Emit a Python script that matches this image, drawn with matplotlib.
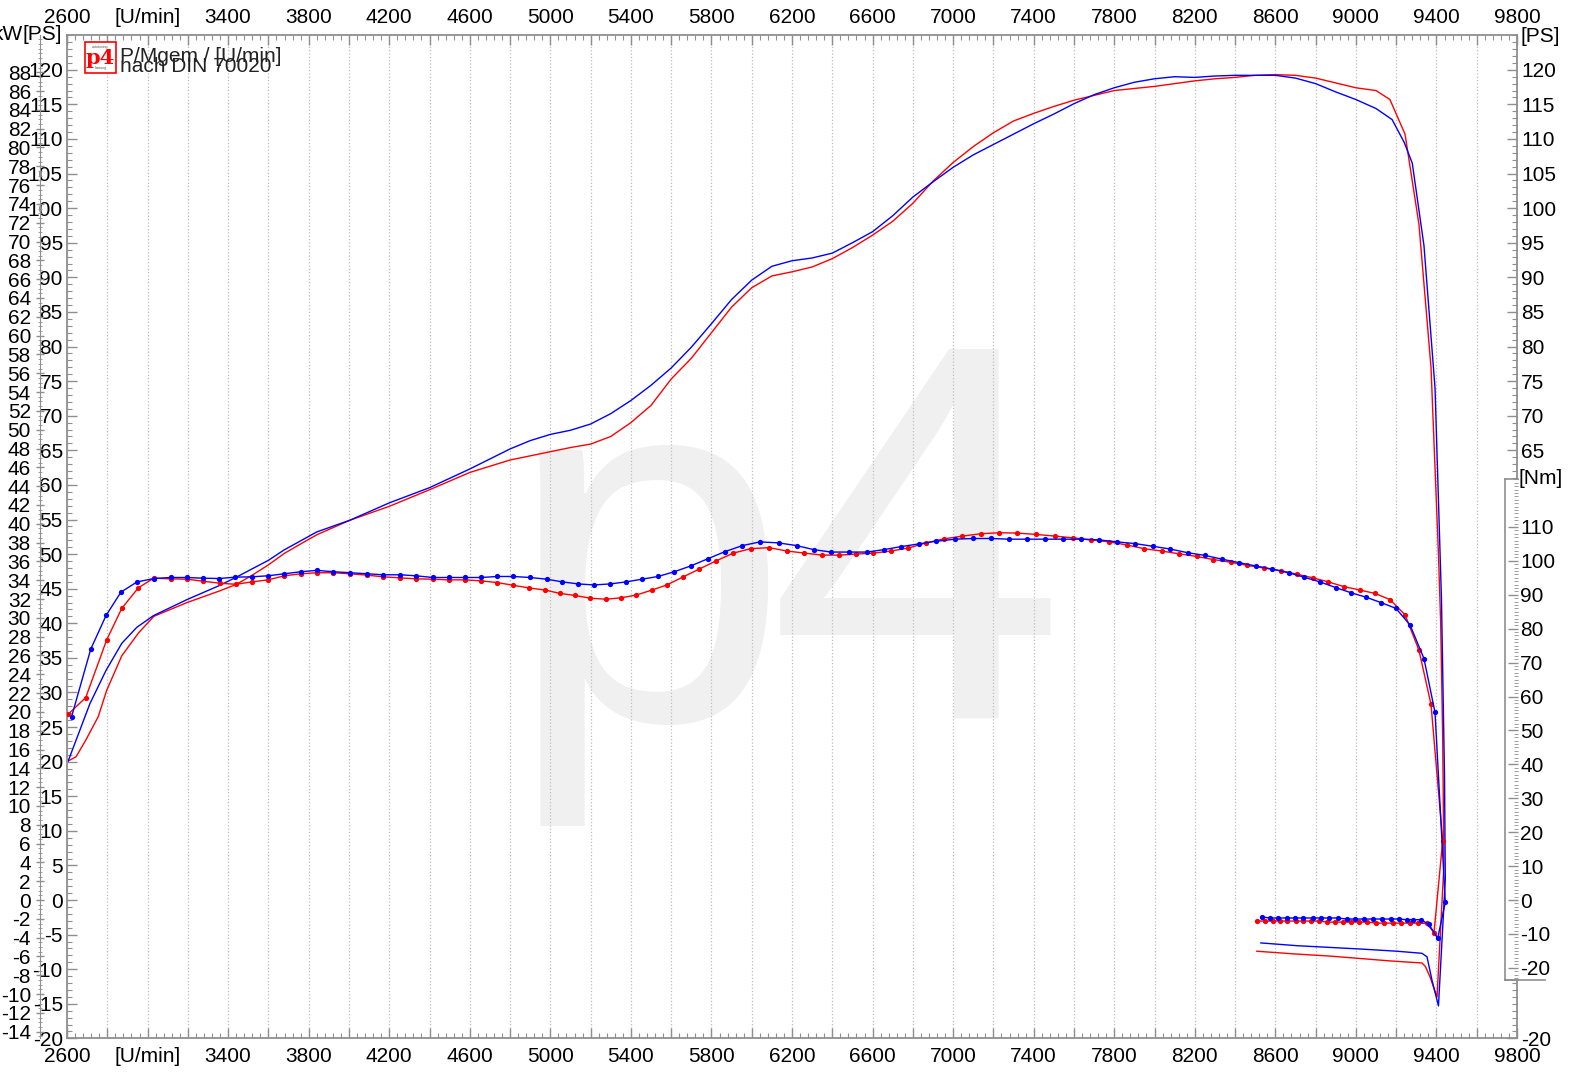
import matplotlib
matplotlib.use("Agg")
import matplotlib.pyplot as plt
from matplotlib.ticker import FixedLocator, MultipleLocator, FuncFormatter
from matplotlib.patches import Rectangle
from matplotlib.lines import Line2D

plt.rcParams['font.family'] = ['Liberation Sans', 'DejaVu Sans']
plt.rcParams['axes.unicode_minus'] = False

# ---- Daten ----
# Leistung [PS], Lauf blau
blue_p_rpm = [2606, 2714, 2794, 2872, 2946, 3029, 3194, 3360, 3443, 3600, 3678, 3840,
              4005, 4200, 4400, 4600, 4800, 4900, 5000, 5100, 5200, 5300, 5400, 5500,
              5600, 5700, 5800, 5900, 6000, 6100, 6200, 6300, 6400, 6500, 6600, 6700,
              6800, 6900, 7000, 7100, 7200, 7300, 7400, 7500, 7600, 7700, 7800, 7900,
              8000, 8100, 8200, 8300, 8400, 8500, 8600, 8700, 8800, 8900, 9000, 9100,
              9180, 9240, 9280, 9338, 9393, 9425, 9440, 9444, 9410, 9378, 9353, 9328,
              9204, 9035, 8707, 8528]
blue_p_ps = [20.1, 28.4, 33.2, 37.1, 39.4, 41.1, 43.4, 45.5, 46.7, 49.1, 50.6, 53.2,
             54.9, 57.4, 59.6, 62.3, 65.2, 66.4, 67.3, 67.9, 68.8, 70.3, 72.2, 74.4,
             76.9, 79.9, 83.3, 86.8, 89.6, 91.6, 92.4, 92.8, 93.5, 95.0, 96.6, 98.9,
             101.6, 103.8, 105.9, 107.7, 109.2, 110.7, 112.2, 113.6, 115.1, 116.4, 117.4, 118.2,
             118.7, 119.0, 118.9, 119.1, 119.2, 119.2, 119.2, 118.8, 118.0, 116.8, 115.7, 114.4,
             112.8, 109.5, 106.5, 94.6, 74.0, 43.4, 18.0, 3.0, -15.3, -11.6, -8.2, -7.7,
             -7.4, -7.1, -6.6, -6.2]

# Leistung [PS], Lauf rot
red_p_rpm = [2606, 2645, 2693, 2755, 2797, 2872, 2955, 3031, 3196, 3360, 3439, 3517,
             3598, 3679, 3762, 3841, 4005, 4200, 4400, 4600, 4800, 4900, 5000, 5100,
             5200, 5300, 5400, 5500, 5600, 5700, 5800, 5900, 6000, 6100, 6200, 6300,
             6400, 6500, 6600, 6700, 6800, 6900, 7000, 7100, 7200, 7300, 7400, 7500,
             7600, 7700, 7800, 7900, 8000, 8100, 8200, 8300, 8400, 8500, 8600, 8700,
             8800, 8900, 9000, 9100, 9169, 9244, 9313, 9373, 9410, 9421, 9431, 9437,
             9403, 9388, 9368, 9345, 9328, 9169, 9000, 8871, 8700, 8508]
red_p_ps = [20.1, 20.7, 23.1, 26.5, 30.3, 35.3, 38.6, 41.0, 43.0, 44.7, 45.6, 46.9,
            48.4, 50.1, 51.5, 52.8, 54.9, 56.9, 59.3, 61.8, 63.6, 64.2, 64.8, 65.4,
            65.9, 67.0, 69.0, 71.5, 75.3, 78.3, 82.0, 85.7, 88.5, 90.2, 90.8, 91.5,
            92.7, 94.3, 96.1, 98.1, 100.7, 103.9, 106.6, 108.9, 110.9, 112.6, 113.7, 114.7,
            115.6, 116.3, 117.0, 117.3, 117.6, 118.0, 118.4, 118.7, 118.9, 119.2, 119.3, 119.2,
            118.8, 118.1, 117.4, 117.0, 115.7, 110.7, 97.7, 77.0, 50.0, 40.0, 23.5, 5.0,
            -14.0, -12.8, -11.1, -9.6, -9.1, -8.8, -8.4, -8.1, -7.8, -7.4]

# Drehmoment [Nm], Lauf blau
blue_t_rpm = [2623, 2718, 2794, 2868, 2948, 3032, 3115, 3194, 3274, 3355, 3436, 3517,
              3598, 3679, 3762, 3841, 3922, 4007, 4090, 4171, 4253, 4333, 4416, 4495,
              4578, 4657, 4737, 4816, 4899, 4982, 5060, 5139, 5217, 5296, 5376, 5455,
              5535, 5615, 5697, 5781, 5866, 5953, 6041, 6134, 6223, 6309, 6395, 6484,
              6571, 6655, 6741, 6829, 6916, 7011, 7100, 7189, 7279, 7368, 7456, 7547,
              7635, 7723, 7815, 7903, 7992, 8077, 8165, 8252, 8335, 8418, 8502, 8582,
              8666, 8742, 8822, 8901, 8976, 9050, 9125, 9199, 9269, 9338, 9393, 9444,
              9406, 9363, 9322, 9285, 9252, 9212, 9173, 9128, 9086, 9040, 8997, 8954,
              8910, 8868, 8825, 8786, 8739, 8698, 8656, 8615, 8573, 8535]
blue_t_nm = [54.1, 74.0, 83.9, 90.8, 93.8, 94.8, 95.1, 95.1, 94.9, 94.8, 95.2, 95.3,
             95.6, 96.2, 96.8, 97.2, 96.8, 96.5, 96.2, 95.9, 95.9, 95.6, 95.1, 95.1,
             95.1, 95.1, 95.4, 95.4, 95.1, 94.6, 93.8, 93.2, 92.9, 93.2, 93.8, 94.6,
             95.4, 96.8, 98.5, 100.6, 102.7, 104.5, 105.6, 105.3, 104.5, 103.3, 102.6, 102.6,
             102.6, 103.3, 104.2, 105.0, 105.8, 106.4, 106.6, 106.6, 106.4, 106.4, 106.4, 106.4,
             106.4, 106.2, 105.6, 105.1, 104.3, 103.5, 102.4, 101.6, 100.5, 99.5, 98.5, 97.6,
             96.5, 95.2, 93.8, 92.1, 90.6, 89.3, 87.7, 86.0, 81.1, 71.2, 55.3, -0.7,
             -11.3, -7.2, -5.8, -5.8, -5.8, -5.6, -5.6, -5.6, -5.6, -5.6, -5.6, -5.6,
             -5.3, -5.3, -5.3, -5.3, -5.3, -5.3, -5.3, -5.3, -5.3, -5.0]

# Drehmoment [Nm], Lauf rot
red_t_rpm = [2606, 2693, 2797, 2872, 2955, 3031, 3116, 3196, 3277, 3360, 3439, 3517,
             3598, 3679, 3762, 3841, 3922, 4005, 4088, 4171, 4253, 4333, 4416, 4495,
             4578, 4657, 4737, 4816, 4896, 4974, 5048, 5123, 5197, 5276, 5351, 5425,
             5505, 5578, 5657, 5740, 5823, 5909, 5995, 6087, 6175, 6261, 6349, 6435,
             6518, 6604, 6692, 6778, 6865, 6956, 7046, 7137, 7229, 7319, 7412, 7506,
             7594, 7683, 7776, 7862, 7948, 8036, 8121, 8209, 8292, 8378, 8458, 8544,
             8627, 8706, 8786, 8863, 8941, 9020, 9095, 9169, 9244, 9313, 9373, 9431,
             9388, 9351, 9310, 9269, 9226, 9183, 9140, 9099, 9057, 9017, 8976, 8937,
             8896, 8858, 8818, 8779, 8739, 8702, 8659, 8623, 8587, 8548, 8507]
red_t_nm = [54.8, 59.7, 76.7, 86.0, 92.1, 94.9, 94.7, 94.6, 94.0, 93.4, 93.1, 93.8,
            94.4, 95.6, 96.2, 96.5, 96.5, 96.2, 95.8, 95.3, 95.0, 94.7, 94.6, 94.4,
            94.4, 94.1, 93.6, 92.8, 92.0, 91.4, 90.4, 89.8, 89.0, 88.7, 89.1, 89.9,
            91.4, 92.9, 95.2, 97.6, 100.0, 102.3, 103.6, 103.9, 102.9, 102.3, 101.7, 101.7,
            102.0, 102.3, 102.9, 103.8, 105.3, 106.5, 107.3, 108.0, 108.3, 108.2, 107.8, 107.3,
            106.8, 106.2, 105.6, 104.7, 103.6, 102.9, 102.1, 101.3, 100.4, 99.6, 98.7, 97.9,
            97.1, 96.1, 95.0, 93.8, 92.4, 91.4, 90.4, 88.6, 84.1, 73.7, 57.7, 17.5,
            -9.6, -6.9, -6.8, -6.8, -6.8, -6.8, -6.8, -6.8, -6.5, -6.5, -6.5, -6.5,
            -6.5, -6.5, -6.2, -6.2, -6.2, -6.2, -6.2, -6.2, -6.2, -6.2, -6.2]

# Achsen / Beschriftung
rpm_range = (2600, 9800)
ps_range = (-20, 125)
kw_per_ps = 0.7355
nm_per_ps = 2.04
ps_left_ticks = list(range(-20, 121, 5))
ps_right_ticks = [-20, 65, 70, 75, 80, 85, 90, 95, 100, 105, 110, 115, 120]
kw_ticks = list(range(-14, 89, 2))
nm_ticks = list(range(-20, 111, 10))

GREY = '#8f8f8f'
RED = '#ff0000'
BLUE = '#0000ff'
FS = 15

W, H = 1572, 1073
fig = plt.figure(figsize=(W / 100, H / 100), dpi=100)

AX_L, AX_R, AX_T, AX_B = 67, 1517, 35.2, 1038.4
ax = fig.add_axes([AX_L / W, 1 - AX_B / H, (AX_R - AX_L) / W, (AX_B - AX_T) / H])
ax.set_xlim(*rpm_range)
ax.set_ylim(*ps_range)

for s in ax.spines.values():
    s.set_color(GREY)
    s.set_linewidth(1.3)


def xfmt(v, pos):
    v = int(round(v))
    if v == 3000:
        return '[U/min]'
    if (v - 2600) % 400 == 0:
        return str(v)
    return ''


ax.xaxis.set_major_locator(MultipleLocator(200))
ax.xaxis.set_minor_locator(MultipleLocator(40))
ax.xaxis.set_major_formatter(FuncFormatter(xfmt))
ax.tick_params(axis='x', which='both', direction='in', top=True, bottom=True,
               labeltop=True, labelbottom=True, color=GREY, labelsize=FS, pad=6)
ax.tick_params(axis='x', which='major', length=7, width=1)
ax.tick_params(axis='x', which='minor', length=3.5, width=0.8)
ax.grid(axis='x', which='major', color='#bdbdbd', linestyle=':', linewidth=0.9)

ax.yaxis.set_major_locator(FixedLocator(ps_left_ticks))
ax.yaxis.set_minor_locator(MultipleLocator(1))
ax.tick_params(axis='y', which='both', direction='in', left=True, right=False,
               color=GREY, labelsize=FS, pad=3)
ax.tick_params(axis='y', which='major', length=7, width=1)
ax.tick_params(axis='y', which='minor', length=3.5, width=0.8)

# rechte PS-Achse
ax_r = ax.twinx()
ax_r.set_ylim(*ps_range)
ax_r.yaxis.set_major_locator(FixedLocator(ps_right_ticks))
ax_r.yaxis.set_minor_locator(MultipleLocator(1))
ax_r.tick_params(axis='y', which='both', direction='in', color=GREY, labelsize=FS, pad=3)
ax_r.tick_params(axis='y', which='major', length=7, width=1)
ax_r.tick_params(axis='y', which='minor', length=3.5, width=0.8)
for s in ax_r.spines.values():
    s.set_visible(False)

# kW-Achse links aussen
ax_kw = ax.twinx()
ax_kw.set_ylim(ps_range[0] * kw_per_ps, ps_range[1] * kw_per_ps)
ax_kw.yaxis.set_ticks_position('left')
ax_kw.spines['left'].set_position(('outward', 19.5))
for k, s in ax_kw.spines.items():
    s.set_visible(k == 'left')
ax_kw.spines['left'].set_color(GREY)
ax_kw.yaxis.set_major_locator(FixedLocator(kw_ticks))
ax_kw.yaxis.set_minor_locator(MultipleLocator(0.5))
ax_kw.tick_params(axis='y', which='both', direction='inout', color=GREY, labelsize=FS, pad=3.5)
ax_kw.tick_params(axis='y', which='major', length=6, width=1)
ax_kw.tick_params(axis='y', which='minor', length=3, width=0.6)

# Drehmoment auf eigener Skala
ax_t = ax.twinx()
ax_t.set_ylim(ps_range[0] * nm_per_ps, ps_range[1] * nm_per_ps)
ax_t.set_axis_off()

# Wasserzeichen
ax.text(647 / W, 1 - 720 / H, 'p', transform=fig.transFigure, ha='center', va='baseline',
        fontsize=367, color='#f0f0f0', zorder=0.1)
ax.text(917 / W, 1 - 718 / H, '4', transform=fig.transFigure, ha='center', va='baseline',
        fontsize=386, color='#f0f0f0', zorder=0.1)

ax.plot(red_p_rpm, red_p_ps, color=RED, lw=1.0, zorder=2)
ax.plot(blue_p_rpm, blue_p_ps, color=BLUE, lw=1.0, zorder=2)
ax_t.plot(red_t_rpm, red_t_nm, color=RED, lw=1.0, marker='o', ms=3.8, mec='none')
ax_t.plot(blue_t_rpm, blue_t_nm, color=BLUE, lw=1.0, marker='o', ms=3.8, mec='none')

# Nm-Skala als Kasten rechts
NM_T, NM_B = 479, 980
ax_nm = fig.add_axes([1505 / W, 1 - NM_B / H, (1518 - 1505) / W, (NM_B - NM_T) / H])
ax_nm.set_facecolor('white')
nm_lo, nm_hi = ps_range[0] * nm_per_ps, ps_range[1] * nm_per_ps
frac_b = (AX_B - NM_B) / (AX_B - AX_T)
frac_t = (AX_B - NM_T) / (AX_B - AX_T)
ax_nm.set_ylim(nm_lo + frac_b * (nm_hi - nm_lo), nm_lo + frac_t * (nm_hi - nm_lo))
ax_nm.set_xticks([])
ax_nm.yaxis.tick_right()
ax_nm.spines['right'].set_visible(False)
for k in ('left', 'top', 'bottom'):
    ax_nm.spines[k].set_color(GREY)
    ax_nm.spines[k].set_linewidth(1.2)
ax_nm.yaxis.set_major_locator(FixedLocator(nm_ticks))
ax_nm.yaxis.set_minor_locator(MultipleLocator(1))
ax_nm.tick_params(axis='y', which='both', direction='in', color=GREY, labelsize=FS, pad=1.5)
ax_nm.tick_params(axis='y', which='major', length=7, width=1)
ax_nm.tick_params(axis='y', which='minor', length=3, width=0.6)
fig.add_artist(Line2D([1505 / W, 1545 / W], [1 - NM_B / H] * 2, color=GREY, lw=1.2))

# Einheiten
fig.text(23 / W, 1 - 35 / H, 'kW', ha='right', va='center', fontsize=FS)
fig.text(62 / W, 1 - 35 / H, '[PS]', ha='right', va='center', fontsize=FS)
fig.text(1520 / W, 1 - 36 / H, '[PS]', ha='left', va='center', fontsize=FS)
fig.text(1518 / W, 1 - 479 / H, '[Nm]', ha='left', va='center', fontsize=FS)

# Legende mit Logo
fig.add_artist(Rectangle((85 / W, 1 - 73 / H), 31 / W, 31 / H, transform=fig.transFigure,
                         facecolor='white', edgecolor=RED, lw=1.2))
fig.text(100.5 / W, 1 - 58 / H, 'p4', ha='center', va='center', fontsize=15,
         fontweight='bold', family=['DejaVu Serif'], color=RED)
fig.text(100.5 / W, 1 - 47 / H, 'autotuning', ha='center', va='center', fontsize=2.5, color='#555555')
fig.text(100.5 / W, 1 - 68 / H, 'leistung', ha='center', va='center', fontsize=2.5, color='#555555')
fig.text(120 / W, 1 - 56 / H, 'P/Mgem / [U/min]', ha='left', va='center', fontsize=FS, color='#222222')
fig.text(120 / W, 1 - 67 / H, 'nach DIN 70020', ha='left', va='center', fontsize=FS, color='#222222')

fig.savefig('out.png', dpi=100)
